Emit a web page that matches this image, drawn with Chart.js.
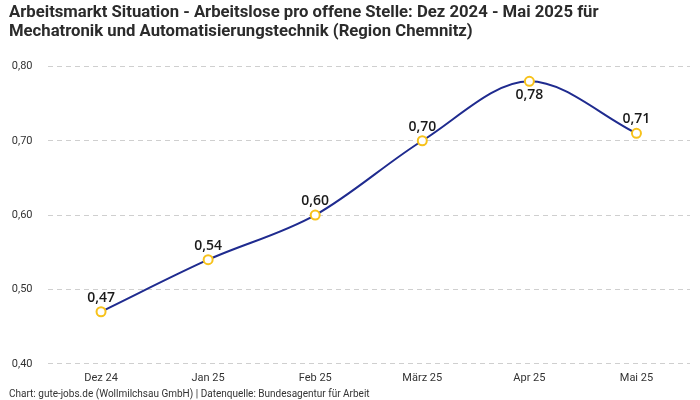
<!DOCTYPE html>
<html>
<head>
<meta charset="utf-8">
<script src="https://cdn.jsdelivr.net/npm/chart.js@4"></script>
<style>
  html, body { margin: 0; padding: 0; background: #fff; }
  #wrap { width: 700px; height: 400px; }
</style>
</head>
<body>
<div id="wrap"><canvas id="chart"></canvas></div>
<script>
// ---------- Data ----------
const months = ['Dez 24', 'Jan 25', 'Feb 25', 'März 25', 'Apr 25', 'Mai 25'];
const ratio = [0.47, 0.54, 0.60, 0.70, 0.78, 0.71];
const labelBelow = [false, false, false, false, true, false];

const fmt = v => v.toFixed(2).replace('.', ',');

// Simple value labels drawn at each point
const valueLabels = {
  id: 'valueLabels',
  afterDatasetsDraw(chart) {
    const ctx = chart.ctx;
    const meta = chart.getDatasetMeta(0);
    ctx.save();
    ctx.font = '600 14px "Open Sans", sans-serif';
    ctx.fillStyle = '#1a1a1a';
    ctx.textAlign = 'center';
    meta.data.forEach((pt, i) => {
      if (labelBelow[i]) {
        ctx.textBaseline = 'top';
        ctx.fillText(fmt(ratio[i]), pt.x, pt.y + 7);
      } else {
        ctx.textBaseline = 'bottom';
        ctx.fillText(fmt(ratio[i]), pt.x, pt.y - 7);
      }
    });
    ctx.restore();
  }
};

new Chart(document.getElementById('chart'), {
  type: 'line',
  data: {
    labels: months,
    datasets: [{
      data: ratio,
      borderColor: '#1f2b8f',
      borderWidth: 2,
      cubicInterpolationMode: 'monotone',
      pointRadius: 4.5,
      pointBorderWidth: 2,
      pointBackgroundColor: '#ffffff',
      pointBorderColor: '#f7c21b',
      fill: false
    }]
  },
  options: {
    responsive: true,
    maintainAspectRatio: false,
    animation: false,
    layout: { padding: { left: 9, right: 10, top: 0, bottom: 0 } },
    plugins: {
      legend: { display: false },
      tooltip: { enabled: false },
      title: {
        display: true,
        align: 'start',
        text: [
          'Arbeitsmarkt Situation - Arbeitslose pro offene Stelle: Dez 2024 - Mai 2025 für',
          'Mechatronik und Automatisierungstechnik (Region Chemnitz)'
        ],
        color: '#2b2b2b',
        font: { family: 'Roboto, sans-serif', size: 16.7, weight: 'bold', lineHeight: 1.15 },
        padding: { top: 3, bottom: 25 }
      },
      subtitle: {
        display: true,
        position: 'bottom',
        align: 'start',
        text: 'Chart: gute-jobs.de (Wollmilchsau GmbH) | Datenquelle: Bundesagentur für Arbeit',
        color: '#333',
        font: { family: 'Roboto, sans-serif', size: 10 },
        padding: { top: 3, bottom: 0 }
      }
    },
    scales: {
      x: {
        offset: true,
        grid: { display: false },
        border: { display: false },
        ticks: { color: '#333', font: { family: 'Roboto, sans-serif', size: 11 }, padding: 0 }
      },
      y: {
        min: 0.40,
        max: 0.80,
        border: { display: false, dash: [5, 4] },
        grid: { color: '#cfcfcf', drawTicks: false },
        afterFit: scale => { scale.width = 38.5; },
        ticks: {
          stepSize: 0.1,
          color: '#333',
          padding: 15,
          font: { family: 'Roboto, sans-serif', size: 11 },
          callback: v => fmt(v)
        }
      }
    }
  },
  plugins: [valueLabels]
});
</script>
</body>
</html>
